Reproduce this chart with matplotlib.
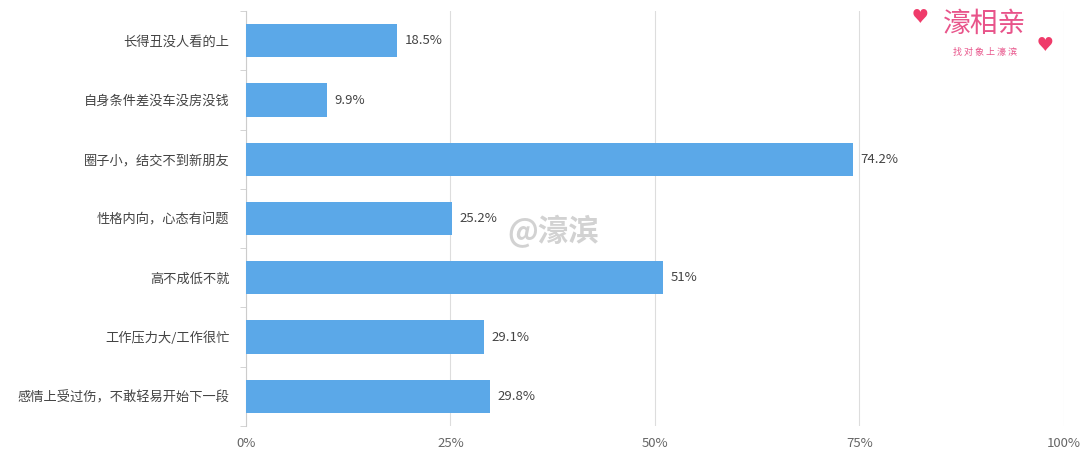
import matplotlib.pyplot as plt

plt.rcParams['font.family'] = ['Noto Sans CJK SC', 'DejaVu Sans']

categories = ['长得丑没人看的上', '自身条件差没车没房没钱', '圈子小，结交不到新朋友',
              '性格内向，心态有问题', '高不成低不就', '工作压力大/工作很忙',
              '感情上受过伤，不敢轻易开始下一段']
values = [18.5, 9.9, 74.2, 25.2, 51, 29.1, 29.8]
labels = ['18.5%', '9.9%', '74.2%', '25.2%', '51%', '29.1%', '29.8%']
xticks = [0, 25, 50, 75, 100]
xtick_labels = ['0%', '25%', '50%', '75%', '100%']

fig = plt.figure(figsize=(10.8, 4.67), dpi=100)
ax = fig.add_axes([0.2278, 0.088, 0.757, 0.888])

y = list(range(len(categories)))
ax.barh(y, values, height=0.56, color='#5BA8E8', zorder=3)
for yi, v, lab in zip(y, values, labels):
    ax.text(v + 0.9, yi, lab, va='center', ha='left', fontsize=9.5, color='#444444')

ax.set_xlim(0, 100)
ax.set_ylim(6.5, -0.5)
ax.set_xticks(xticks)
ax.set_xticklabels(xtick_labels, fontsize=9.5, color='#666666')
ax.set_yticks(y)
ax.set_yticklabels(categories, fontsize=9.5, color='#444444')
ax.set_yticks([i + 0.5 for i in range(-1, len(categories))], minor=True)
ax.tick_params(axis='y', which='major', length=0, pad=12)
ax.tick_params(axis='y', which='minor', length=4, color='#cccccc')
ax.tick_params(axis='x', length=0, pad=8)
ax.grid(axis='x', color='#dddddd', linewidth=0.8, zorder=0)

for s in ['top', 'right', 'bottom']:
    ax.spines[s].set_visible(False)
ax.spines['left'].set_color('#cccccc')

# watermark
fig.text(0.512, 0.505, '@濠滨', fontsize=22, color='#d2d2d2', ha='center', va='center',
         fontweight='bold')

# logo
fig.text(0.912, 0.95, '濠相亲', fontsize=20, color='#e8548a', ha='center', va='center')
fig.text(0.912, 0.888, '找 对 象 上 濠 滨', fontsize=6.5, color='#e8548a', ha='center', va='center')
fig.text(0.852, 0.965, '♥', fontsize=12, color='#ef3b6a', ha='center', va='center')
fig.text(0.968, 0.905, '♥', fontsize=12, color='#ef3b6a', ha='center', va='center')

fig.savefig('out.png', dpi=100, facecolor='white')
